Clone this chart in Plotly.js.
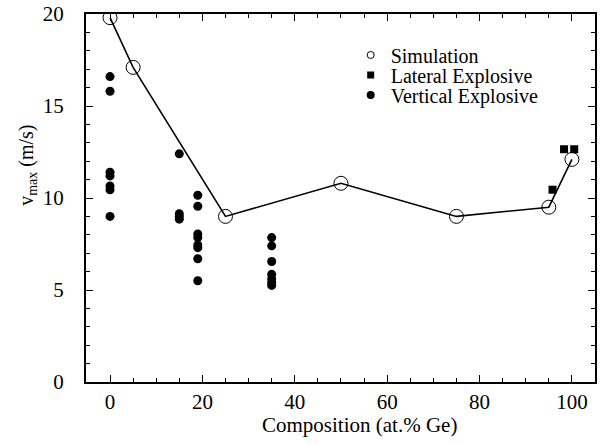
<!DOCTYPE html>
<html>
<head>
<meta charset="utf-8">
<script src="https://cdn.plot.ly/plotly-3.0.1.min.js"></script>
<style>html,body{margin:0;padding:0;background:#fff;}#chart{width:606px;height:445px;}</style>
</head>
<body>
<div id="chart"></div>
<script>
// Simulation
const simX = [0, 5, 25, 50, 75, 95, 100];
const simY = [19.8, 17.1, 9.0, 10.8, 9.0, 9.5, 12.1];
// Lateral explosive
const latX = [95.8, 98.3, 100.5];
const latY = [10.45, 12.65, 12.65];
// Vertical explosive
const vertX = [0, 0, 0, 0, 0, 0, 0,
               15, 15, 15, 15,
               19, 19, 19, 19, 19, 19, 19, 19,
               35, 35, 35, 35, 35, 35, 35];
const vertY = [16.6, 15.8, 11.4, 11.2, 10.65, 10.45, 9.0,
               12.4, 9.15, 9.0, 8.85,
               10.15, 9.55, 8.05, 7.85, 7.45, 7.3, 6.7, 5.5,
               7.85, 7.4, 6.55, 5.85, 5.6, 5.4, 5.25];
const legendNames = ['Simulation', 'Lateral Explosive', 'Vertical Explosive'];
const xTitle = 'Composition (at.% Ge)';
const yTitle = 'v<sub>max</sub> (m/s)';

const serif = "'Liberation Serif', 'Times New Roman', Times, serif";

const traces = [
  {x: simX, y: simY, mode: 'lines', line: {color: '#000', width: 1.6}, showlegend: false, hoverinfo: 'skip'},
  {x: simX, y: simY, mode: 'markers', marker: {symbol: 'circle-open', size: 14, color: '#000', line: {width: 1}}, showlegend: false},
  {x: latX, y: latY, mode: 'markers', marker: {symbol: 'square', size: 8, color: '#000'}, showlegend: false},
  {x: vertX, y: vertY, mode: 'markers', marker: {symbol: 'circle', size: 9, color: '#000'}, showlegend: false},
  // legend entries (one legend each for exact row spacing)
  {x: [null], y: [null], mode: 'markers', name: legendNames[0], legend: 'legend',
   marker: {symbol: 'circle-open', size: 7, color: '#000', line: {width: 1}}},
  {x: [null], y: [null], mode: 'markers', name: legendNames[1], legend: 'legend2',
   marker: {symbol: 'square', size: 7, color: '#000'}},
  {x: [null], y: [null], mode: 'markers', name: legendNames[2], legend: 'legend3',
   marker: {symbol: 'circle', size: 8, color: '#000'}}
];

const axisCommon = {
  showgrid: false, zeroline: false, showline: true, linecolor: '#000', linewidth: 2,
  mirror: 'allticks', ticks: 'inside', ticklen: 7, tickwidth: 1, tickcolor: '#000',
  tickfont: {family: serif, size: 21, color: '#000'}
};

function leg(yc) {
  return {
    x: 0.52, y: yc, xanchor: 'left', yanchor: 'middle',
    bgcolor: 'rgba(0,0,0,0)', borderwidth: 0,
    font: {family: serif, size: 20, color: '#000'}
  };
}

const layout = {
  width: 606, height: 445,
  margin: {l: 86, r: 11, t: 14, b: 63},
  paper_bgcolor: '#fff', plot_bgcolor: '#fff',
  font: {family: serif, color: '#000'},
  xaxis: Object.assign({}, axisCommon, {
    range: [-5.2, 105], dtick: 20, tick0: 0,
    minor: {dtick: 5, ticks: 'inside', ticklen: 4, tickcolor: '#000'},
    ticklabelstandoff: 0
  }),
  yaxis: Object.assign({}, axisCommon, {
    range: [0, 20], dtick: 5, tick0: 0,
    minor: {dtick: 1, ticks: 'inside', ticklen: 4, tickcolor: '#000'},
    ticklabelstandoff: 16
  }),
  annotations: [
    {text: yTitle, xref: 'paper', yref: 'paper',
     x: -0.114, y: 0.59, xanchor: 'center', yanchor: 'middle', textangle: -90,
     showarrow: false, font: {family: serif, size: 20, color: '#000'}},
    {text: xTitle, xref: 'paper', yref: 'paper',
     x: 0.538, y: -0.116, xanchor: 'center', yanchor: 'middle',
     showarrow: false, font: {family: serif, size: 21, color: '#000'}}
  ],
  legend: leg(0.8886),
  legend2: leg(0.8342),
  legend3: leg(0.7799),
  showlegend: true
};

Plotly.newPlot('chart', traces, layout, {displayModeBar: false, staticPlot: true});
</script>
</body>
</html>
